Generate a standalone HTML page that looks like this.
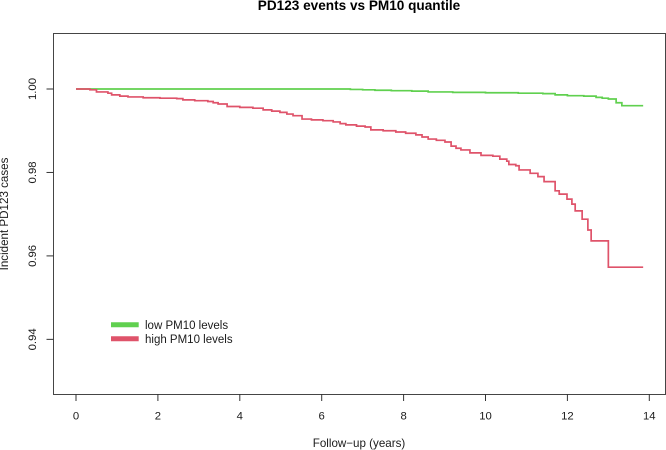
<!DOCTYPE html>
<html>
<head>
<meta charset="utf-8">
<title>PD123 events vs PM10 quantile</title>
<style>
html,body{margin:0;padding:0;background:#fff;width:666px;height:450px;overflow:hidden}
svg{display:block}
text{font-family:"Liberation Sans",sans-serif;fill:#1a1a1a}
</style>
</head>
<body>
<svg id="chart" width="666" height="450" viewBox="0 0 666 450" xmlns="http://www.w3.org/2000/svg">
  <defs><filter id="soft" x="-2%" y="-2%" width="104%" height="104%"><feGaussianBlur stdDeviation="0.3"></feGaussianBlur></filter></defs>
  <g filter="url(#soft)">
  <text x="359" y="10" text-anchor="middle" font-size="13.6" font-weight="bold" style="fill:#000">PD123 events vs PM10 quantile</text>
  <rect x="53.5" y="33.5" width="612" height="361" fill="none" stroke="#444" stroke-width="1"></rect>
  <g id="axes"></g>
  <g id="series"></g>
  <text x="359" y="447" text-anchor="middle" font-size="11.6">Follow−up (years)</text>
  <text transform="translate(8,214) rotate(-90)" text-anchor="middle" font-size="11.6">Incident PD123 cases</text>
  <g>
    <line x1="111" y1="324.7" x2="138.7" y2="324.7" stroke="#61D04F" stroke-width="5"></line>
    <text x="145" y="329" font-size="11.5">low PM10 levels</text>
    <line x1="111" y1="338.7" x2="138.7" y2="338.7" stroke="#DF536B" stroke-width="5"></line>
    <text x="145" y="343" font-size="11.5">high PM10 levels</text>
  </g>
  </g>
</svg>
<script>
const xTicks = [0, 2, 4, 6, 8, 10, 12, 14];
const yTicks = [1.00, 0.98, 0.96, 0.94];
const yTickLabels = ["1.00", "0.98", "0.96", "0.94"];

const lowTimes = [0, 6.7, 7.0, 7.3, 7.7, 8.2, 8.6, 9.2, 10.0, 10.8, 11.4, 11.7, 12.0, 12.4, 12.7, 12.85, 13.0, 13.19, 13.33, 13.85];
const lowSurvival = [1.0, 0.9999, 0.9998, 0.9997, 0.9996, 0.9995, 0.9993, 0.9992, 0.9991, 0.9990, 0.9989, 0.9986, 0.9984, 0.9983, 0.9980, 0.9978, 0.9976, 0.9967, 0.9960, 0.9960];

const highTimes = [0, 0.34, 0.5, 0.78, 0.87, 1.07, 1.27, 1.64, 2.05, 2.46, 2.61, 2.9, 3.22, 3.35, 3.47, 3.69, 4.0, 4.32, 4.57, 4.78, 4.98, 5.15, 5.3, 5.52, 5.75, 6.03, 6.28, 6.45, 6.59, 6.85, 7.06, 7.2, 7.5, 7.81, 8.05, 8.3, 8.45, 8.6, 8.8, 9.01, 9.16, 9.28, 9.4, 9.62, 9.89, 10.18, 10.35, 10.52, 10.57, 10.74, 10.82, 11.09, 11.28, 11.43, 11.7, 11.8, 11.99, 12.11, 12.19, 12.36, 12.5, 12.58, 13.0, 13.85];
const highSurvival = [1.0, 0.9998, 0.9993, 0.9990, 0.9986, 0.9983, 0.9981, 0.9979, 0.9978, 0.9977, 0.9974, 0.9972, 0.9970, 0.9967, 0.9964, 0.9958, 0.9956, 0.9954, 0.9950, 0.9947, 0.9944, 0.9940, 0.9936, 0.9928, 0.9926, 0.9924, 0.9921, 0.9917, 0.9914, 0.9911, 0.9909, 0.9902, 0.9900, 0.9897, 0.9894, 0.9890, 0.9885, 0.9880, 0.9877, 0.9873, 0.9863, 0.9858, 0.9854, 0.9847, 0.9841, 0.9839, 0.9832, 0.9827, 0.9819, 0.9816, 0.9806, 0.9798, 0.9790, 0.9778, 0.9756, 0.9748, 0.9736, 0.9724, 0.9708, 0.9688, 0.9662, 0.9636, 0.9573, 0.9573];

const NS = 'http://www.w3.org/2000/svg';
function xScale(t) { return 76 + t * 40.95; }
function yScale(s) { return 89 + (1 - s) * 4172.6; }

function stepPath(times, values) {
  let d = 'M' + xScale(times[0]).toFixed(2) + ' ' + yScale(values[0]).toFixed(2);
  for (let i = 1; i < times.length; i++) {
    d += 'H' + xScale(times[i]).toFixed(2) + 'V' + yScale(values[i]).toFixed(2);
  }
  return d;
}

const axes = document.getElementById('axes');
const series = document.getElementById('series');

function addLine(x1, y1, x2, y2) {
  const el = document.createElementNS(NS, 'line');
  el.setAttribute('x1', x1);
  el.setAttribute('y1', y1);
  el.setAttribute('x2', x2);
  el.setAttribute('y2', y2);
  el.setAttribute('stroke', '#333');
  el.setAttribute('stroke-width', '1');
  return el;
}

xTicks.forEach(function (t) {
  const px = xScale(t);
  const tick = addLine(px, 394, px, 401);
  
  
  axes.appendChild(tick);
  const label = document.createElementNS(NS, 'text');
  
  
  label.setAttribute('x', px);
  label.setAttribute('y', 419.5);
  label.setAttribute('text-anchor', 'middle');
  label.setAttribute('font-size', '11.3');
  label.textContent = String(t);
  axes.appendChild(label);
});

yTicks.forEach(function (s, i) {
  const py = yScale(s);
  const tick = addLine(46.5, py, 53.5, py);
  
  
  axes.appendChild(tick);
  const label = document.createElementNS(NS, 'text');
  
  
  label.setAttribute('transform', 'translate(36,' + py + ') rotate(-90)');
  label.setAttribute('text-anchor', 'middle');
  label.setAttribute('font-size', '11.3');
  label.textContent = yTickLabels[i];
  axes.appendChild(label);
});

const lowLine = document.createElementNS(NS, 'path');


lowLine.setAttribute('d', stepPath(lowTimes, lowSurvival));
lowLine.setAttribute('fill', 'none');
lowLine.setAttribute('stroke', '#61D04F');
lowLine.setAttribute('stroke-width', '1.7');
series.appendChild(lowLine);

const highLine = document.createElementNS(NS, 'path');


highLine.setAttribute('d', stepPath(highTimes, highSurvival));
highLine.setAttribute('fill', 'none');
highLine.setAttribute('stroke', '#DF536B');
highLine.setAttribute('stroke-width', '1.7');
series.appendChild(highLine);
</script>
</body>
</html>
